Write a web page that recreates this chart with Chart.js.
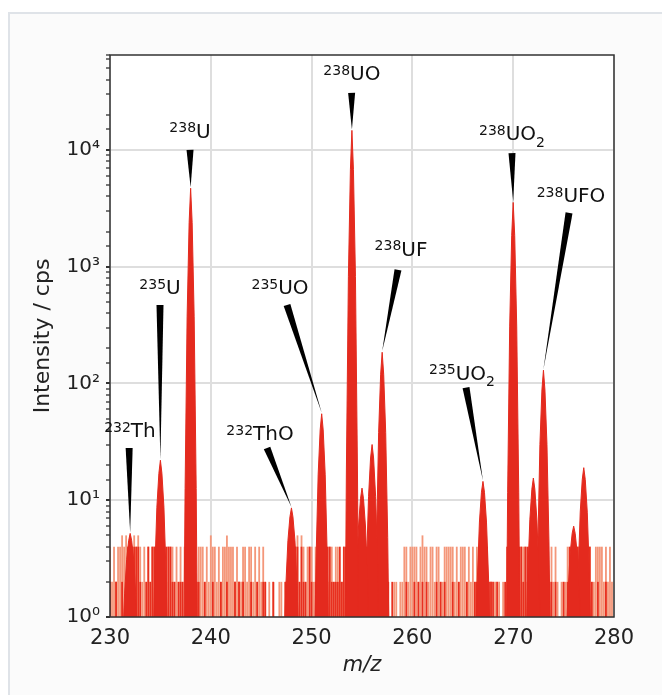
<!DOCTYPE html>
<html lang="en">
<head>
<meta charset="UTF-8">
<title>Mass spectrum</title>
<script src="https://cdn.jsdelivr.net/npm/chart.js@4.4.1/dist/chart.umd.min.js"></script>
<style>
  html, body { margin: 0; padding: 0; background: #fff; }
  body { width: 662px; height: 695px; overflow: hidden; position: relative; }
  .panel { position: absolute; left: 8px; top: 12px; width: 720px; height: 720px;
           border-left: 2px solid #dfe3e8; border-top: 2px solid #dfe3e8; background: #fbfbfb; }
  .wrap { position: absolute; left: 0; top: 0; width: 662px; height: 695px; }
</style>
</head>
<body>
<div class="panel"></div>
<div class="wrap"><canvas id="spectrum" width="662" height="695"></canvas></div>
<script>
// channels are 0.2 m/z apart, one string per nominal mass (.0 .2 .4 .6 .8), digit = cps
const massStart = 230;
const lightNoise = [
  '42424', '45454', '54545', '42424', '24442', '42424', '44242', '42442', '24424', '44242',
  '54424', '24454', '44242', '24424', '42424', '24202', '02002', '20204', '24452', '54244',
  '42424', '24424', '42442', '24242', '24442', '42424', '24242', '24020', '02202', '24424',
  '44424', '54424', '42442', '24444', '42424', '44242', '42424', '24202', '02020', '20242',
  '24424', '44244', '24424', '42424', '24202', '22424', '44424', '24242', '24444', '24242'
];
const redNoise = [
  '20020', '02024', '44444', '20024', '24444', '44444', '42202', '22044', '44422', '00200',
  '02000', '20020', '00202', '02000', '20020', '02200', '02000', '00202', '24442', '42204',
  '20244', '44444', '22224', '24444', '44444', '44444', '44444', '44420', '20000', '00200',
  '02020', '20200', '00202', '02000', '20020', '00200', '02244', '44422', '20200', '02444',
  '44444', '24444', '44444', '44422', '02000', '20244', '44444', '44442', '00200', '02000'
];

// peak profiles, read at these offsets from the nominal mass
const peakOffsets = [-0.65, -0.55, -0.35, -0.15, 0, 0.15, 0.35, 0.55, 0.65];
const peakCenters = [232, 235, 238, 248, 251, 254, 255, 256, 257, 267, 270, 272, 273, 276, 277];
const peakProfiles = [
  [1, 1.6, 3.1, 4.5, 5.2, 4.5, 3.1, 1.6, 1],
  [1, 2.5, 8.7, 17, 22, 17, 8.7, 2.5, 1],
  [1, 12.6, 372, 2390, 4700, 2390, 372, 12.6, 1],
  [1, 1.9, 4.5, 7.2, 8.6, 7.2, 4.5, 1.9, 1],
  [1, 3.3, 16.5, 40, 55, 40, 16.5, 3.3, 1],
  [1, 17.8, 826, 6820, 14700, 6820, 826, 17.8, 1],
  [1, 2.1, 5.9, 10.3, 12.7, 10.3, 5.9, 2.1, 1],
  [1, 2.8, 10.8, 23, 30, 23, 10.8, 2.8, 1],
  [1, 4.8, 38, 120, 185, 120, 38, 4.8, 1],
  [1, 2.2, 6.5, 11.7, 14.5, 11.7, 6.5, 2.2, 1],
  [1, 11.6, 305, 1845, 3550, 1845, 305, 11.6, 1],
  [1, 2.3, 6.8, 12.4, 15.5, 12.4, 6.8, 2.3, 1],
  [1, 4.3, 30, 88, 130, 88, 30, 4.3, 1],
  [1, 1.7, 3.5, 5.2, 6, 5.2, 3.5, 1.7, 1],
  [1, 2.4, 7.9, 15, 19, 15, 7.9, 2.4, 1]
];

// labels: text centre and arrow start in data units, arrow ends on the peak top
const peakLabels = [
  { sup: '232', main: 'Th',  sub: '',  peak: 232, text: [231.98, 40],    from: [231.9, 28] },
  { sup: '235', main: 'U',   sub: '',  peak: 235, text: [234.96, 671],   from: [234.96, 470] },
  { sup: '238', main: 'U',   sub: '',  peak: 238, text: [237.94, 14800], from: [237.94, 10000] },
  { sup: '232', main: 'ThO', sub: '',  peak: 248, text: [244.88, 38],    from: [245.58, 28] },
  { sup: '235', main: 'UO',  sub: '',  peak: 251, text: [246.87, 671],   from: [247.56, 470] },
  { sup: '238', main: 'UO',  sub: '',  peak: 254, text: [254.0, 45700],  from: [253.97, 30800] },
  { sup: '238', main: 'UF',  sub: '',  peak: 257, text: [258.87, 1445],  from: [258.57, 940] },
  { sup: '235', main: 'UO',  sub: '2', peak: 267, text: [264.92, 125],   from: [265.32, 92] },
  { sup: '238', main: 'UO',  sub: '2', peak: 270, text: [269.88, 14000], from: [269.88, 9400] },
  { sup: '238', main: 'UFO', sub: '',  peak: 273, text: [275.73, 4120],  from: [275.54, 2890] }
];

const supDigits = ['⁰', '¹', '²', '³', '⁴', '⁵'];
const isDecade = v => { const p = Math.log10(v); return Math.abs(p - Math.round(p)) < 1e-6; };

function noisePoints(rows) {
  const pts = [];
  rows.forEach((row, i) => {
    for (let k = 0; k < row.length; k++) {
      const v = +row[k];
      if (v > 0) pts.push({ x: massStart + i + k * 0.2, y: v });
    }
  });
  return pts;
}

const peakSets = peakCenters.map((c, i) => ({
  type: 'line',
  data: peakOffsets.map((o, k) => ({ x: c + o, y: peakProfiles[i][k] })),
  backgroundColor: '#e42a1e',
  borderColor: '#e42a1e',
  borderWidth: 1,
  pointRadius: 0,
  tension: 0,
  fill: 'start',
  order: 0
}));

const spectrumDecor = {
  id: 'spectrumDecor',
  beforeDraw(chart) {
    const { ctx, chartArea: a } = chart;
    ctx.save();
    ctx.fillStyle = '#fff';
    ctx.fillRect(a.left, a.top, a.right - a.left, a.bottom - a.top);
    ctx.restore();
  },
  afterDatasetsDraw(chart) {
    const { ctx, chartArea: a } = chart;
    const xs = chart.scales.x, ys = chart.scales.y;
    ctx.save();
    ctx.strokeStyle = '#333';
    ctx.lineWidth = 1.5;
    ctx.strokeRect(a.left, a.top, a.right - a.left, a.bottom - a.top);

    peakLabels.forEach(l => {
      const idx = peakCenters.indexOf(l.peak);
      const top = Math.max(...peakProfiles[idx]);
      const tx = xs.getPixelForValue(l.peak), ty = ys.getPixelForValue(top) - 1;
      const sx = xs.getPixelForValue(l.from[0]), sy = ys.getPixelForValue(l.from[1]);
      const dx = tx - sx, dy = ty - sy, len = Math.hypot(dx, dy);
      const nx = -dy / len * 3.5, ny = dx / len * 3.5;
      ctx.fillStyle = '#000';
      ctx.beginPath();
      ctx.moveTo(sx + nx, sy + ny);
      ctx.lineTo(sx - nx, sy - ny);
      ctx.lineTo(tx, ty);
      ctx.closePath();
      ctx.fill();

      const mainFont = '20px "DejaVu Sans"', smallFont = '14px "DejaVu Sans"';
      ctx.font = smallFont;
      const ws = ctx.measureText(l.sup).width;
      const wb = l.sub ? ctx.measureText(l.sub).width : 0;
      ctx.font = mainFont;
      const wm = ctx.measureText(l.main).width;
      let px = xs.getPixelForValue(l.text[0]) - (ws + wm + wb) / 2;
      const py = ys.getPixelForValue(l.text[1]);
      ctx.fillStyle = '#111';
      ctx.textBaseline = 'alphabetic';
      ctx.textAlign = 'left';
      ctx.font = smallFont;
      ctx.fillText(l.sup, px, py + 2);
      px += ws;
      ctx.font = mainFont;
      ctx.fillText(l.main, px, py + 7.5);
      px += wm;
      if (l.sub) {
        ctx.font = smallFont;
        ctx.fillText(l.sub, px, py + 14);
      }
    });
    ctx.restore();
  }
};

new Chart(document.getElementById('spectrum'), {
  type: 'bar',
  data: {
    datasets: [
      ...peakSets,
      {
        data: noisePoints(redNoise),
        backgroundColor: '#e8301f',
        borderWidth: 0,
        grouped: false,
        barPercentage: 0.9,
        categoryPercentage: 1,
        order: 1
      },
      {
        data: noisePoints(lightNoise),
        backgroundColor: '#f4977a',
        borderWidth: 0,
        grouped: false,
        barPercentage: 0.9,
        categoryPercentage: 1,
        order: 2
      }
    ]
  },
  options: {
    responsive: false,
    animation: false,
    devicePixelRatio: 1,
    layout: { padding: { left: 0, right: 48, top: 55, bottom: 0 } },
    plugins: { legend: { display: false }, tooltip: { enabled: false } },
    scales: {
      x: {
        type: 'linear',
        min: 230,
        max: 280,
        offset: false,
        grid: { offset: false, color: '#dedede', lineWidth: 2, drawTicks: false },
        border: { display: false },
        ticks: { stepSize: 10, padding: 9, color: '#222', font: { family: 'DejaVu Sans', size: 21 } },
        title: { display: true, text: 'm/z', color: '#222', padding: { top: 0, bottom: 17 },
                 font: { family: 'DejaVu Sans', size: 21, style: 'italic' } },
        afterFit(scale) { scale.height = 78; }
      },
      y: {
        type: 'logarithmic',
        min: 1,
        max: 65000,
        beginAtZero: false,
        grid: {
          color: c => (c.tick && isDecade(c.tick.value)) ? '#dedede' : 'rgba(0,0,0,0)',
          tickColor: c => (c.tick && isDecade(c.tick.value)) ? '#333' : '#777',
          lineWidth: 2,
          tickLength: 4
        },
        border: { display: false },
        ticks: {
          autoSkip: false,
          padding: 6,
          color: '#222',
          font: { family: 'DejaVu Sans', size: 20 },
          callback: v => isDecade(v) ? '10' + supDigits[Math.round(Math.log10(v))] : ''
        },
        title: { display: true, text: 'Intensity / cps', color: '#222', padding: { top: 30, bottom: 0 },
                 font: { family: 'DejaVu Sans', size: 22 } },
        afterFit(scale) { scale.width = 110; }
      }
    }
  },
  plugins: [spectrumDecor]
});
</script>
</body>
</html>
